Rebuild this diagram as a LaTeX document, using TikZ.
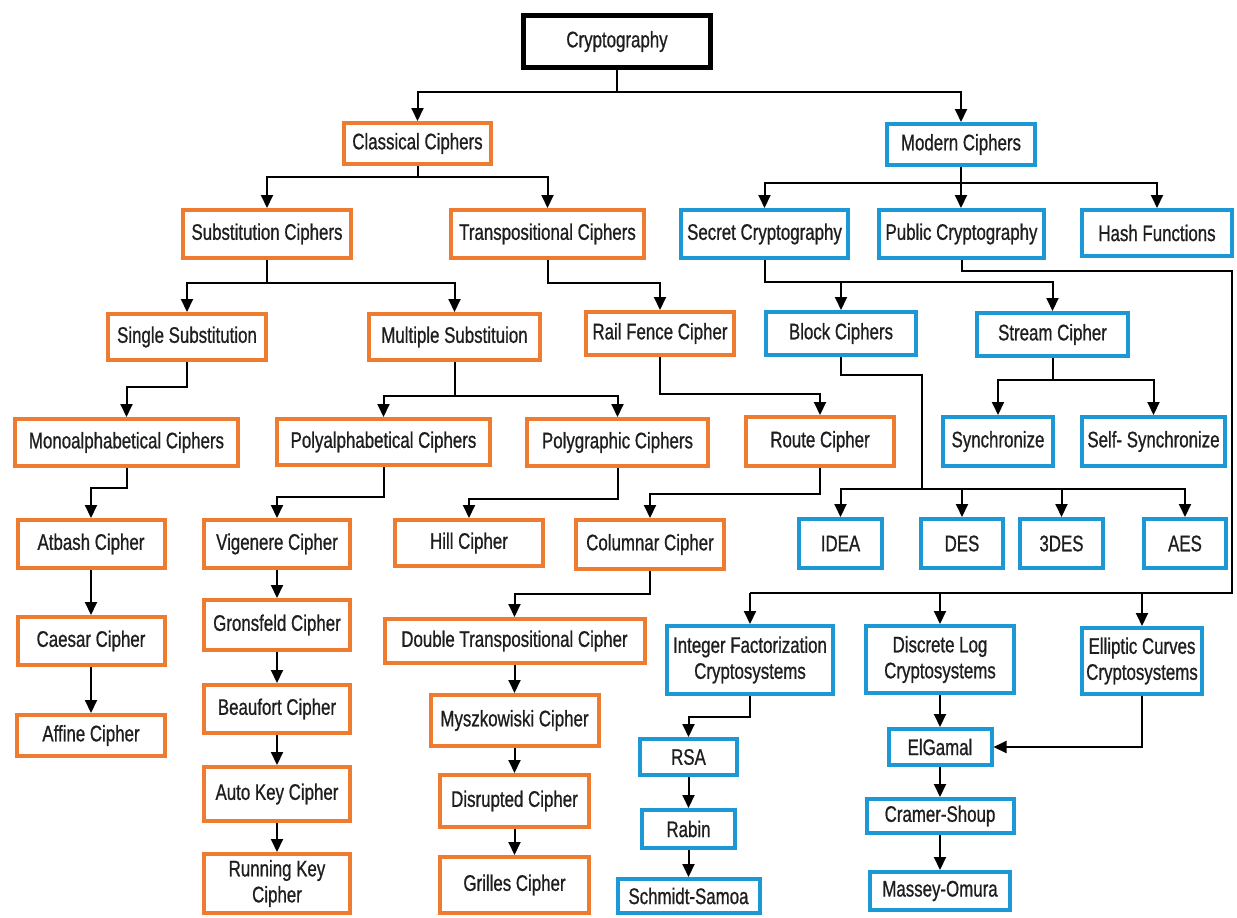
\documentclass[tikz,border=0pt]{standalone}
\usepackage{fontspec}
\setmainfont{Liberation Sans}[FakeStretch=0.75,FakeBold=0.8]
\usetikzlibrary{arrows.meta}
\definecolor{cOrange}{RGB}{238,124,48}
\definecolor{cBlue}{RGB}{28,152,212}
\definecolor{cInk}{RGB}{30,30,30}
\begin{document}
\begin{tikzpicture}[x=1pt,y=-1pt,
  box/.style={draw, line width=4pt, fill=white, inner sep=0pt, align=center,
              text=cInk, font=\fontsize{22.5}{26}\selectfont},
  obox/.style={box, draw=cOrange},
  bbox/.style={box, draw=cBlue},
  kbox/.style={box, draw=black, line width=5pt},
  sz/.style 2 args={minimum width=#1pt, minimum height=#2pt},
  link/.style={line width=2pt, draw=black, line join=miter},
  conn/.style={link, -{Triangle[length=13pt,width=12pt]}}
]
\useasboundingbox[fill=white] (0,0) rectangle (1237,918);

% ---- root and first levels
\node[kbox, sz={187}{52}] (crypto) at (617,41.5) {Cryptography};
\node[obox, sz={147}{41}] (classical) at (417.5,143.5) {Classical Ciphers};
\node[bbox, sz={148}{41}] (modern) at (961,144.5) {Modern Ciphers};

\node[obox, sz={168}{48}] (subst) at (267,234) {Substitution Ciphers};
\node[obox, sz={193}{48}] (transp) at (547.5,234) {Transpositional Ciphers};
\node[bbox, sz={167}{48}] (secret) at (764.5,234) {Secret Cryptography};
\node[bbox, sz={165}{48}] (public) at (961.5,234) {Public Cryptography};
\node[bbox, sz={150}{46}] (hash) at (1157,233) {Hash Functions};

\node[obox, sz={158}{46}] (single) at (187,337) {Single Substitution};
\node[obox, sz={171}{46}] (multiple) at (454.5,337) {Multiple Substituion};
\node[obox, sz={148}{43}] (railfence) at (660,333.5) {Rail Fence Cipher};
\node[bbox, sz={150}{43}] (block) at (841,333.5) {Block Ciphers};
\node[bbox, sz={151}{43}] (stream) at (1052.5,334.5) {Stream Cipher};

\node[obox, sz={223}{47}] (mono) at (126.5,442.5) {Monoalphabetical Ciphers};
\node[obox, sz={213}{46}] (polyal) at (383.5,442) {Polyalphabetical Ciphers};
\node[obox, sz={181}{47}] (polygr) at (617.5,442.5) {Polygraphic Ciphers};
\node[obox, sz={148}{49}] (route) at (820,441.5) {Route Cipher};
\node[bbox, sz={110}{49}] (sync) at (998,441.5) {Synchronize};
\node[bbox, sz={143}{49}] (selfsync) at (1153.5,441.5) {Self- Synchronize};

% ---- ciphers
\node[obox, sz={147}{48}] (atbash) at (91,544) {Atbash Cipher};
\node[obox, sz={146}{48}] (vigenere) at (277,544) {Vigenere Cipher};
\node[obox, sz={148}{46}] (hill) at (469,543) {Hill Cipher};
\node[obox, sz={148}{49}] (columnar) at (650,544.5) {Columnar Cipher};
\node[bbox, sz={83}{49}] (idea) at (840.5,543.5) {IDEA};
\node[bbox, sz={82}{49}] (des) at (962,543.5) {DES};
\node[bbox, sz={83}{49}] (tdes) at (1061.5,543.5) {3DES};
\node[bbox, sz={82}{49}] (aes) at (1185,543.5) {AES};

\node[obox, sz={147}{48}] (caesar) at (91,641) {Caesar Cipher};
\node[obox, sz={148}{41}] (affine) at (91,735.5) {Affine Cipher};

\node[obox, sz={146}{50}] (gronsfeld) at (277,625) {Gronsfeld Cipher};
\node[obox, sz={146}{48}] (beaufort) at (277,709) {Beaufort Cipher};
\node[obox, sz={146}{54}] (autokey) at (277,794) {Auto Key Cipher};
\node[obox, sz={146}{59}] (running) at (277,883.5) {Running Key\\Cipher};

\node[obox, sz={260}{44}] (double) at (514.5,641) {Double Transpositional Cipher};
\node[obox, sz={168}{51}] (mysz) at (514.5,720.5) {Myszkowiski Cipher};
\node[obox, sz={149}{52}] (disrupted) at (514.5,801) {Disrupted Cipher};
\node[obox, sz={149}{56}] (grilles) at (514.5,885) {Grilles Cipher};

\node[bbox, sz={166}{68}] (integer) at (750,660) {Integer Factorization\\Cryptosystems};
\node[bbox, sz={148}{67}] (discrete) at (940,659.5) {Discrete Log\\Cryptosystems};
\node[bbox, sz={120}{66}] (elliptic) at (1142,661) {Elliptic Curves\\Cryptosystems};

\node[bbox, sz={97}{36}] (rsa) at (688.5,757) {RSA};
\node[bbox, sz={93}{38}] (rabin) at (688.5,829) {Rabin};
\node[bbox, sz={142}{34}] (schmidt) at (688.5,896) {Schmidt-Samoa};

\node[bbox, sz={103}{36}] (elgamal) at (940,747) {ElGamal};
\node[bbox, sz={147}{34}] (cramer) at (940,816) {Cramer-Shoup};
\node[bbox, sz={140}{38}] (massey) at (940,891) {Massey-Omura};

% ---- branch points of the bus lines
\coordinate (pubturn) at (1232,271);
\coordinate (pubbus) at (1232,593);
\coordinate (blkturn) at (922,375);
\coordinate (blkbus) at (922,489);

% ---- connectors
\draw[conn] (crypto.south) -- (crypto.south |- 0,92) -| (classical.north);
\draw[conn] (crypto.south |- 0,92) -| (modern.north);

\draw[conn] (classical.south) -- (classical.south |- 0,177) -| (subst.north);
\draw[conn] (classical.south |- 0,177) -| (transp.north);

\draw[conn] (modern.south) -- (modern.north |- public.north);
\draw[conn] (modern.south |- 0,183) -| (secret.north);
\draw[conn] (modern.south |- 0,183) -| (hash.north);

\draw[conn] (subst.south) -- (subst.south |- 0,283) -| (single.north);
\draw[conn] (subst.south |- 0,283) -| (multiple.north);
\draw[conn] (transp.south) -- (transp.south |- 0,283) -| (railfence.north);

\draw[conn] (secret.south) -- (secret.south |- 0,282) -| (block.north);
\draw[conn] (secret.south |- 0,282) -| (stream.north);

\draw[link] (public.south) |- (pubturn) -- (pubbus) -- (integer.north |- pubbus);
\draw[conn] (integer.north |- pubbus) -- (integer.north);
\draw[conn] (discrete.north |- pubbus) -- (discrete.north);
\draw[conn] (elliptic.north |- pubbus) -- (elliptic.north);

\draw[conn] (single.south) -- (single.south |- 0,387) -| (mono.north);
\draw[conn] (multiple.south) -- (multiple.south |- 0,396) -| (polyal.north);
\draw[conn] (multiple.south |- 0,396) -| (polygr.north);
\draw[conn] (railfence.south) -- (railfence.south |- 0,394) -| (route.north);

\draw[link] (block.south) |- (blkturn) -- (blkbus);
\draw[conn] (blkbus) -| (idea.north);
\draw[conn] (blkbus) -| (aes.north);
\draw[conn] (des.north |- blkbus) -- (des.north);
\draw[conn] (tdes.north |- blkbus) -- (tdes.north);

\draw[conn] (stream.south) -- (stream.south |- 0,380) -| (sync.north);
\draw[conn] (stream.south |- 0,380) -| (selfsync.north);

\draw[conn] (mono.south) -- (mono.south |- 0,488) -| (atbash.north);
\draw[conn] (polyal.south) -- (polyal.south |- 0,497) -| (vigenere.north);
\draw[conn] (polygr.south) -- (polygr.south |- 0,499) -| (hill.north);
\draw[conn] (route.south) -- (route.south |- 0,494) -| (columnar.north);
\draw[conn] (columnar.south) -- (columnar.south |- 0,594) -| (double.north);

\draw[conn] (atbash) -- (caesar);
\draw[conn] (caesar) -- (affine);
\draw[conn] (vigenere) -- (gronsfeld);
\draw[conn] (gronsfeld) -- (beaufort);
\draw[conn] (beaufort) -- (autokey);
\draw[conn] (autokey) -- (running);
\draw[conn] (double) -- (mysz);
\draw[conn] (mysz) -- (disrupted);
\draw[conn] (disrupted) -- (grilles);

\draw[conn] (integer.south) -- (integer.south |- 0,717) -| (rsa.north);
\draw[conn] (rsa) -- (rabin);
\draw[conn] (rabin) -- (schmidt);
\draw[conn] (discrete) -- (elgamal);
\draw[conn] (elliptic.south) |- (elgamal.east);
\draw[conn] (elgamal) -- (cramer);
\draw[conn] (cramer) -- (massey);
\end{tikzpicture}
\end{document}
